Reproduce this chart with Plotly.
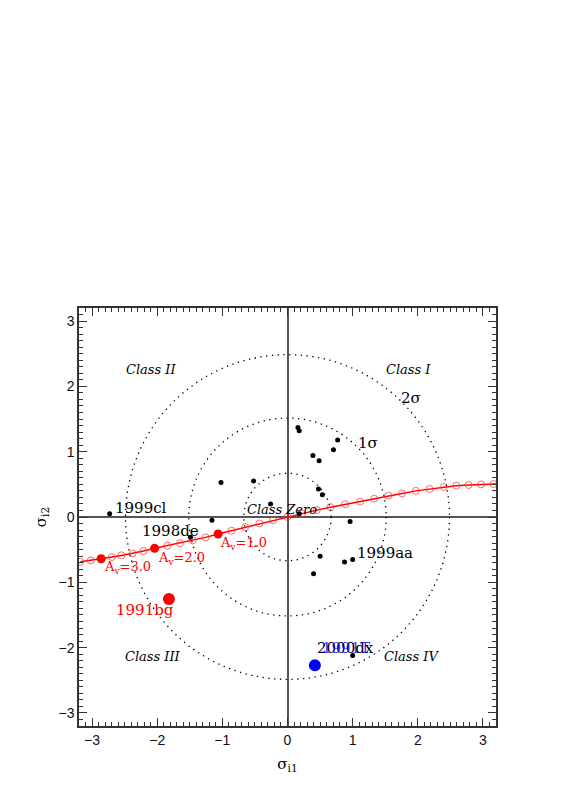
import plotly.graph_objects as go

# SN positions in the (sigma_i1, sigma_i2) plane
sn_x = [-2.73, -1.49, -1.16, -1.02, -0.52, -0.26, 0.16, 0.18, 0.18, 0.39, 0.485,
        0.705, 0.77, 0.475, 0.535, 0.96, 0.50, 0.40, 0.875, 1.0, 1.0]
sn_y = [0.05, -0.31, -0.05, 0.53, 0.55, 0.20, 1.37, 1.32, 0.05, 0.94, 0.86,
        1.03, 1.18, 0.43, 0.34, -0.07, -0.60, -0.87, -0.69, -0.65, -2.12]

sn_names = ["1999cl", "1998de", "1999aa", "2000dx"]
name_x = [-2.685, -2.27, 1.04, 0.42]
name_y = [0.14, -0.21, -0.55, -2.00]

# peculiar objects
bg_x, bg_y = [-1.82], [-1.255]
t_x, t_y = [0.42], [-2.27]

# reddening vector, one point per 0.2 mag of A_V (negative A_V to the right)
av_vals = [3.4, 3.2, 3.0, 2.8, 2.6, 2.4, 2.2, 2.0, 1.8, 1.6, 1.4, 1.2, 1.0,
           0.8, 0.6, 0.4, 0.2, 0.0, -0.2, -0.4, -0.6, -0.8, -1.0, -1.2,
           -1.4, -1.6, -1.8, -2.0, -2.2, -2.4, -2.6, -2.8, -3.0, -3.2]
av_x = [-3.18, -3.02, -2.86, -2.695, -2.55, -2.377, -2.21, -2.04, -1.843,
        -1.65, -1.454, -1.258, -1.065, -0.86, -0.65, -0.43, -0.22, 0.0,
        0.22, 0.45, 0.66, 0.885, 1.115, 1.33, 1.55, 1.757, 1.97, 2.18,
        2.40, 2.59, 2.78, 2.97, 3.16, 3.35]
av_y = [-0.685, -0.665, -0.64, -0.613, -0.588, -0.557, -0.52, -0.48, -0.44,
        -0.40, -0.358, -0.312, -0.26, -0.21, -0.155, -0.10, -0.05, 0.0,
        0.05, 0.105, 0.15, 0.195, 0.235, 0.28, 0.326, 0.36, 0.40, 0.43,
        0.46, 0.48, 0.49, 0.50, 0.505, 0.51]
av_marked = [3.0, 2.0, 1.0]

sigma_radii = [0.67, 1.515, 2.486]

fig = go.Figure()

for r in sigma_radii:
    fig.add_shape(type="circle", xref="x", yref="y", x0=-r, y0=-r, x1=r, y1=r,
                  line=dict(color="black", width=1.3, dash="1.3px,4.5px"))

fig.add_trace(go.Scatter(
    x=av_x, y=av_y, mode="lines+markers",
    line=dict(color="#ff0000", width=1.5),
    marker=dict(symbol="circle-open", size=7, color="rgba(255,60,60,0.75)",
                line=dict(width=1)),
    hoverinfo="skip", showlegend=False))

mk_x = [av_x[av_vals.index(a)] for a in av_marked]
mk_y = [av_y[av_vals.index(a)] for a in av_marked]
fig.add_trace(go.Scatter(x=mk_x, y=mk_y, mode="markers",
                         marker=dict(size=9, color="#ff0000"), showlegend=False))

fig.add_trace(go.Scatter(x=sn_x, y=sn_y, mode="markers",
                         marker=dict(size=5, color="black"), showlegend=False))
fig.add_trace(go.Scatter(x=bg_x, y=bg_y, mode="markers",
                         marker=dict(size=12, color="#ff0000"), showlegend=False))
fig.add_trace(go.Scatter(x=t_x, y=t_y, mode="markers",
                         marker=dict(size=12, color="#0000ff"), showlegend=False))

serif = "DejaVu Serif"
for nm, x, y in zip(sn_names, name_x, name_y):
    fig.add_annotation(x=x, y=y, text=nm, showarrow=False, xanchor="left",
                       font=dict(family=serif, size=15, color="black"))
fig.add_annotation(x=0.5, y=-2.0, text="1991T", showarrow=False, xanchor="left",
                   font=dict(family=serif, size=15, color="rgba(0,0,255,0.8)"))
fig.add_annotation(x=-2.18, y=-1.43, text="1991bg", showarrow=False,
                   font=dict(family=serif, size=15, color="#ff0000"))

av_lbl_x = [-2.85, -2.02, -1.07]
av_lbl_y = [-0.78, -0.63, -0.40]
for a, x, y in zip(av_marked, av_lbl_x, av_lbl_y):
    fig.add_annotation(x=x, y=y, text="A<sub>v</sub>=%.1f" % a, showarrow=False,
                       xanchor="left",
                       font=dict(family=serif, size=13, color="#ff0000"))

class_txt = ["Class I", "Class II", "Class III", "Class IV", "Class Zero"]
class_x = [1.86, -2.1, -2.06, 1.91, -0.09]
class_y = [2.26, 2.26, -2.14, -2.13, 0.12]
for t, x, y in zip(class_txt, class_x, class_y):
    fig.add_annotation(x=x, y=y, text="<i>%s</i>" % t, showarrow=False,
                       font=dict(family=serif, size=13, color="black"))

fig.add_annotation(x=1.23, y=1.13, text="1σ", showarrow=False,
                   font=dict(family=serif, size=15, color="black"))
fig.add_annotation(x=1.9, y=1.82, text="2σ", showarrow=False,
                   font=dict(family=serif, size=15, color="black"))

axis_common = dict(
    range=[-3.2, 3.2], dtick=1, ticks="inside", ticklen=8, tickwidth=1,
    tickcolor="#333", showline=True, linecolor="#333", linewidth=1.5,
    mirror="ticks", showgrid=False, zeroline=True, zerolinecolor="#555",
    zerolinewidth=1.5, tickfont=dict(family="Liberation Sans", size=14, color="#111"),
    minor=dict(dtick=0.1, ticks="inside", ticklen=4, tickcolor="#333"),
)

fig.update_xaxes(**axis_common,
                 title=dict(text="σ<sub>i1</sub>", standoff=12,
                            font=dict(family=serif, size=15, color="black")))
fig.update_yaxes(**axis_common,
                 title=dict(text="σ<sub>i2</sub>", standoff=8,
                            font=dict(family=serif, size=15, color="black")))

fig.update_layout(
    width=545, height=791,
    margin=dict(l=71, r=57, t=300, b=73),
    plot_bgcolor="white", paper_bgcolor="white",
    showlegend=False,
)

fig.write_html("out.html")
